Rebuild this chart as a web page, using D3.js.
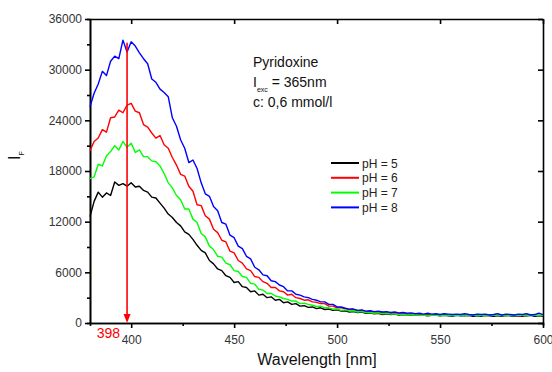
<!DOCTYPE html>
<html>
<head>
<meta charset="utf-8">
<script src="https://cdn.jsdelivr.net/npm/d3@7"></script>
<style>
  body { margin: 0; background: #fff; }
  svg { display: block; font-family: "Liberation Sans", Arial, sans-serif; }
  .axis text { fill: #333; font-size: 12px; }
  .axis path, .axis line { stroke: #000; stroke-width: 1.6; }
</style>
</head>
<body>
<div id="chart"></div>
<script>
// wavelengths 380..600 nm, 2 nm step
const wavelengths = d3.range(380, 601, 2);

const ph5 = [
  12600, 14400, 15500, 14900, 15400, 15100, 16700, 16300, 16500, 16200,
  16600, 16100, 16200, 15700, 15500, 14900, 14800, 14200, 13600, 12900,
  12500, 11900, 11500, 10800, 10500, 9900, 9200, 8600, 8300, 7400,
  7000, 6400, 6200, 5600, 5400, 4800, 4900, 4300, 4200, 3700,
  3800, 3300, 3400, 3000, 3100, 2700, 2800, 2400, 2500, 2200,
  2300, 2000, 2050, 1850, 1900, 1700, 1800, 1600, 1650, 1500,
  1550, 1400, 1450, 1300, 1350, 1250, 1300, 1150, 1200, 1100,
  1150, 1000, 1100, 1000, 1050, 950, 1000, 950, 900, 1000,
  900, 950, 850, 900, 950, 850, 900, 850, 800, 900,
  850, 850, 900, 800, 850, 800, 900, 850, 800, 850,
  800, 900, 850, 800, 850, 800, 850, 900, 800, 850, 800
];
const ph6 = [
  20400, 21500, 21900, 22900, 22600, 24300, 24400, 25200, 24900, 25800,
  26000, 25100, 24900, 23500, 23200, 22500, 21900, 22200, 21100, 20700,
  19600, 18700, 17600, 17400, 16200, 15600, 14000, 13900, 12700, 12300,
  11100, 10700, 9800, 9600, 8500, 8300, 7400, 7100, 6400, 6200,
  5500, 5400, 4900, 4700, 4200, 4200, 3800, 3700, 3300, 3400,
  3000, 2900, 2700, 2750, 2500, 2450, 2300, 2300, 2000, 2000,
  1800, 1800, 1700, 1550, 1600, 1450, 1500, 1350, 1400, 1300,
  1300, 1200, 1250, 1150, 1200, 1100, 1150, 1050, 1100, 1000,
  1050, 950, 1000, 950, 1000, 900, 1000, 950, 900, 950,
  950, 900, 850, 950, 900, 950, 850, 900, 950, 850,
  900, 850, 950, 900, 850, 900, 850, 950, 900, 900, 850
];
const ph7 = [
  17100, 17300, 18800, 18600, 19800, 20300, 21000, 20500, 21500, 20800,
  21300, 20200, 20500, 19700, 19700, 19200, 19100, 18600, 17700, 16600,
  16000, 15100, 14600, 13500, 13500, 12300, 11900, 10600, 10200, 9100,
  8700, 7900, 7800, 7100, 6900, 6200, 6100, 5500, 5400, 4700,
  4600, 4000, 3900, 3500, 3500, 3200, 3100, 2900, 2800, 2600,
  2600, 2300, 2350, 2200, 2100, 1950, 2000, 1800, 1800, 1650,
  1650, 1500, 1550, 1400, 1450, 1300, 1350, 1250, 1250, 1150,
  1200, 1100, 1150, 1050, 1050, 1000, 1050, 950, 950, 1000,
  900, 950, 850, 950, 900, 850, 950, 900, 850, 950,
  900, 850, 900, 950, 850, 900, 850, 900, 950, 850,
  900, 850, 950, 850, 900, 900, 850, 900, 950, 850, 900
];
const ph8 = [
  25600, 27200, 28300, 29800, 29300, 31000, 31600, 31300, 33500, 32100,
  33300, 32800, 32000, 31300, 30700, 28900, 28500, 27700, 27300, 26800,
  24300, 23300, 21700, 20700, 19000, 19300, 18300, 16600, 15300, 15000,
  13800, 13300, 11900, 11700, 10400, 10100, 9100, 8800, 7900, 7600,
  6600, 6300, 5700, 5600, 5000, 4900, 4500, 4300, 3800, 3800,
  3400, 3300, 3100, 3000, 2800, 2700, 2500, 2500, 2200, 2200,
  1900, 1900, 1750, 1650, 1650, 1500, 1550, 1400, 1450, 1350,
  1400, 1300, 1350, 1250, 1300, 1200, 1250, 1150, 1200, 1100,
  1150, 1050, 1150, 1050, 1100, 1000, 1100, 1050, 1000, 1050,
  1000, 1100, 1000, 950, 1050, 1000, 1050, 950, 1000, 1100,
  950, 1050, 1000, 950, 1050, 1000, 1100, 950, 1000, 1150, 1000
];

const seriesNames = ['pH = 5', 'pH = 6', 'pH = 7', 'pH = 8'];
const seriesColors = ['#000000', '#ff0000', '#00ff00', '#0000ff'];
const seriesValues = [ph5, ph6, ph7, ph8];

const xTicks = [400, 450, 500, 550, 600];
const yTicks = [0, 6000, 12000, 18000, 24000, 30000, 36000];
const peakWavelength = 398;
const peakTop = 33200;

const svgWidth = 552;
const svgHeight = 372;
const margin = { top: 19, right: 9, bottom: 49, left: 90 };
const chartWidth = svgWidth - margin.left - margin.right;
const chartHeight = svgHeight - margin.top - margin.bottom;

const svg = d3.select('#chart')
  .append('svg')
  .attr('width', svgWidth)
  .attr('height', svgHeight);

const chart = svg.append('g')
  .attr('transform', `translate(${margin.left}, ${margin.top})`);

const xScale = d3.scaleLinear().domain([380, 600]).range([0, chartWidth]);
const yScale = d3.scaleLinear().domain([0, 36000]).range([chartHeight, 0]);

// minor ticks
chart.append('g')
  .attr('class', 'axis')
  .attr('transform', `translate(0, ${chartHeight})`)
  .call(d3.axisBottom(xScale).tickValues(d3.range(425, 600, 50)).tickSize(3).tickFormat(''));
chart.append('g')
  .attr('class', 'axis')
  .call(d3.axisLeft(yScale).tickValues(d3.range(3000, 36000, 6000)).tickSize(3).tickFormat(''));

// main axes
chart.append('g')
  .attr('class', 'axis x-axis')
  .attr('transform', `translate(0, ${chartHeight})`)
  .call(d3.axisBottom(xScale).tickValues(xTicks).tickSize(5).tickSizeOuter(0).tickPadding(7).tickFormat(d3.format('d')));
chart.append('g')
  .attr('class', 'axis y-axis')
  .call(d3.axisLeft(yScale).tickValues(yTicks).tickSize(5).tickSizeOuter(0).tickPadding(3).tickFormat(d3.format('d')));

// top and right frame with inward ticks
chart.append('g')
  .attr('class', 'axis')
  .call(d3.axisTop(xScale).tickValues(xTicks).tickSize(-5).tickSizeOuter(0).tickFormat(''));
chart.append('g')
  .attr('class', 'axis')
  .attr('transform', `translate(${chartWidth}, 0)`)
  .call(d3.axisRight(yScale).tickValues(yTicks).tickSize(-5).tickSizeOuter(0).tickFormat(''));

// curves
const line = d3.line()
  .x((d, i) => xScale(wavelengths[i]))
  .y(d => yScale(d));

seriesValues.forEach((vals, k) => {
  chart.append('path')
    .datum(vals)
    .attr('fill', 'none')
    .attr('stroke', seriesColors[k])
    .attr('stroke-width', 1.4)
    .attr('stroke-linejoin', 'round')
    .attr('d', line);
});

// peak marker arrow
const ax = xScale(peakWavelength);
chart.append('line')
  .attr('x1', ax).attr('x2', ax)
  .attr('y1', yScale(peakTop)).attr('y2', yScale(0) - 6)
  .attr('stroke', '#ff0000')
  .attr('stroke-width', 1.6);
chart.append('path')
  .attr('d', `M${ax - 3.5},${yScale(0) - 9}L${ax + 3.5},${yScale(0) - 9}L${ax},${yScale(0)}Z`)
  .attr('fill', '#ff0000');
chart.append('text')
  .attr('x', ax - 7)
  .attr('y', chartHeight + 15)
  .attr('text-anchor', 'end')
  .attr('fill', '#ff0000')
  .attr('font-size', 14)
  .text(peakWavelength);

// legend
const legend = chart.append('g')
  .attr('transform', `translate(${331 - margin.left}, ${163 - margin.top})`);
seriesNames.forEach((name, k) => {
  const g = legend.append('g').attr('transform', `translate(0, ${k * 14.8})`);
  g.append('line')
    .attr('x1', 0).attr('x2', 28)
    .attr('stroke', seriesColors[k])
    .attr('stroke-width', 2);
  g.append('text')
    .attr('x', 31)
    .attr('y', 4.5)
    .attr('font-size', 12)
    .attr('fill', '#222')
    .text(name);
});

// annotation
const note = svg.append('g')
  .attr('font-size', 14)
  .attr('fill', '#111');
note.append('text').attr('x', 253).attr('y', 67).text('Pyridoxine');
const exc = note.append('text').attr('x', 253).attr('y', 87);
exc.append('tspan').text('I');
exc.append('tspan').attr('font-size', 7).attr('dy', 5).text('exc');
exc.append('tspan').attr('dy', -5).text(' = 365nm');
note.append('text').attr('x', 253).attr('y', 107).text('c: 0,6 mmol/l');

// axis titles
svg.append('text')
  .attr('x', 317)
  .attr('y', 365)
  .attr('text-anchor', 'middle')
  .attr('font-size', 16)
  .attr('fill', '#111')
  .text('Wavelength [nm]');

const yTitle = svg.append('text')
  .attr('transform', 'translate(20, 160) rotate(-90)')
  .attr('font-size', 16)
  .attr('fill', '#111');
yTitle.append('tspan').text('I');
yTitle.append('tspan').attr('font-size', 7).attr('dy', 4).text('F');
</script>
</body>
</html>
